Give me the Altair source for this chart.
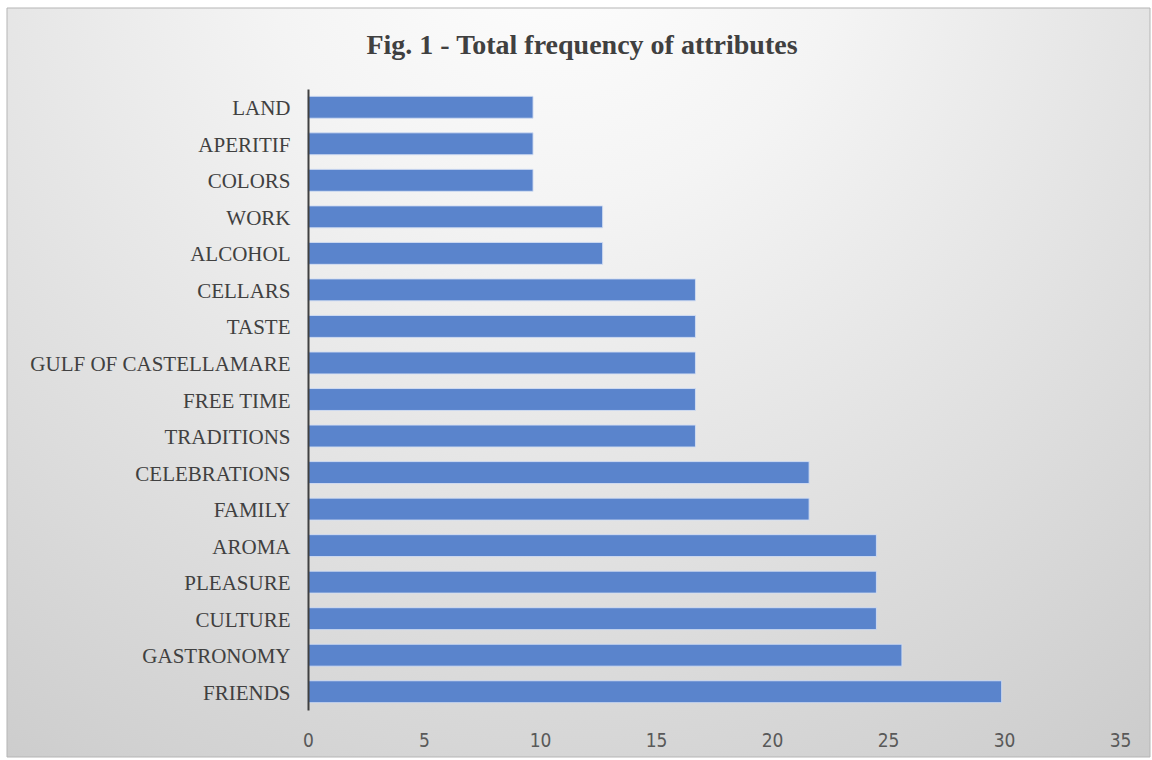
import altair as alt
import pandas as pd

categories = ["LAND", "APERITIF", "COLORS", "WORK", "ALCOHOL", "CELLARS", "TASTE",
              "GULF OF CASTELLAMARE", "FREE TIME", "TRADITIONS", "CELEBRATIONS",
              "FAMILY", "AROMA", "PLEASURE", "CULTURE", "GASTRONOMY", "FRIENDS"]
values = [9.7, 9.7, 9.7, 12.7, 12.7, 16.7, 16.7, 16.7, 16.7, 16.7, 21.6,
          21.6, 24.5, 24.5, 24.5, 25.6, 29.9]
x_ticks = [0, 5, 10, 15, 20, 25, 30, 35]

df = pd.DataFrame({"attribute": categories, "freq": values})

W, H = 812, 621
PL, PT = 308, 89
TOTAL_W, TOTAL_H = 1152, 760

bg = alt.Chart(pd.DataFrame({"k": [0]})).mark_rect(
    color={
        "gradient": "radial",
        "x1": 0.48, "y1": 0.08, "r1": 0.0,
        "x2": 0.48, "y2": 0.08, "r2": 1.05,
        "stops": [
            {"offset": 0.0, "color": "#ffffff"},
            {"offset": 0.25, "color": "#f4f4f4"},
            {"offset": 1.0, "color": "#c3c3c3"},
        ],
    },
    stroke="#b5b5b5",
    strokeWidth=1,
).encode(
    x=alt.value(7 - PL), x2=alt.value(1150 - PL),
    y=alt.value(8 - PT), y2=alt.value(757 - PT),
)

bars = alt.Chart(df).mark_bar(
    color="#5a84cc", stroke="#d3def3", strokeWidth=1, strokeOpacity=0.9
).encode(
    y=alt.Y("attribute:N", sort=categories, title=None,
            scale=alt.Scale(paddingInner=0.4, paddingOuter=0.2),
            axis=alt.Axis(domainColor="#404040", domainWidth=2, ticks=False,
                          labelFont="Liberation Serif", labelFontSize=21,
                          labelColor="#404040", labelPadding=18, labelLimit=400,
                          labelOffset=2, zindex=1)),
    x=alt.X("freq:Q", title=None,
            scale=alt.Scale(domain=[0, 35], nice=False),
            axis=alt.Axis(values=x_ticks, grid=False, domain=False, ticks=False,
                          labelFont="Liberation Sans Narrow, DejaVu Sans Condensed, Liberation Sans",
                          labelFontSize=19, labelColor="#595959", labelPadding=21,
                          labelFlush=False, zindex=1)),
)

chart = alt.layer(bg, bars).properties(
    width=W, height=H,
    title=alt.TitleParams("Fig. 1 - Total frequency of attributes",
                          font="Liberation Serif", fontSize=28, fontWeight="bold",
                          color="#404040", anchor="middle", frame="group",
                          dx=582 - (PL + W / 2), offset=-52, zindex=1),
    autosize=alt.AutoSizeParams(type="none"),
    padding={"left": PL, "top": PT, "right": TOTAL_W - PL - W, "bottom": TOTAL_H - PT - H},
).configure_view(stroke=None).configure(background="#ffffff")

chart.save("out.html", embed_options={"renderer": "svg", "actions": False})
